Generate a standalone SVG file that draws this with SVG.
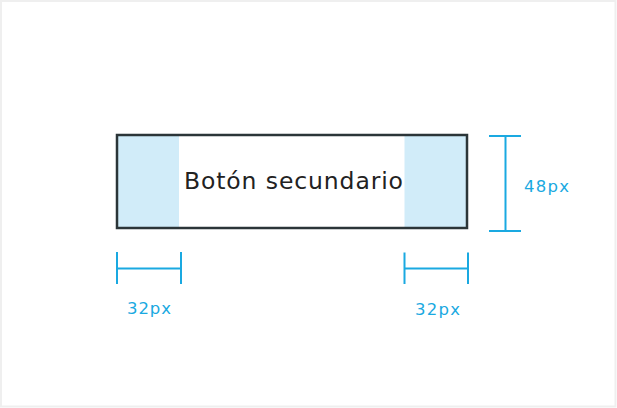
<svg xmlns="http://www.w3.org/2000/svg" width="617" height="408" viewBox="0 0 617 408">
<style>
.dim{stroke:#1aa9e1;stroke-width:2;fill:none}
.dimtxt{font-family:"DejaVu Sans","Liberation Sans",sans-serif;font-size:16.5px;fill:#1aa9e1}
.lbl{font-family:"DejaVu Sans","Liberation Sans",sans-serif;font-size:23.5px;fill:#222}
</style>
<rect x="1" y="1" width="614.5" height="405.5" fill="#fff" stroke="#efefef" stroke-width="2"/>
<g id="button">
<rect x="117" y="135" width="350" height="93" fill="#fff"/>
<rect x="117" y="135" width="62" height="93" fill="#d1ecf9"/>
<rect x="404.5" y="135" width="62.5" height="93" fill="#d1ecf9"/>
<rect x="117" y="135" width="350" height="93" fill="none" stroke="#2b3538" stroke-width="2.5"/>
<text class="lbl" x="184" y="189" textLength="219" lengthAdjust="spacing">Botón secundario</text>
</g>
<g id="dimensions">
<g id="dim-height">
<path class="dim" d="M505.5 136V231M489 136H521M489 231H521"/>
<text class="dimtxt" x="524" y="192" textLength="45" lengthAdjust="spacing">48px</text>
</g>
<g id="dim-left">
<path class="dim" d="M117 252V284M181 252V284M117 268.5H181"/>
<text class="dimtxt" x="127" y="314" textLength="44" lengthAdjust="spacing">32px</text>
</g>
<g id="dim-right">
<path class="dim" d="M404.5 252.5V284M468 252.5V284M404.5 268.5H468"/>
<text class="dimtxt" x="415" y="314.5" textLength="45" lengthAdjust="spacing">32px</text>
</g>
</g>
</svg>
